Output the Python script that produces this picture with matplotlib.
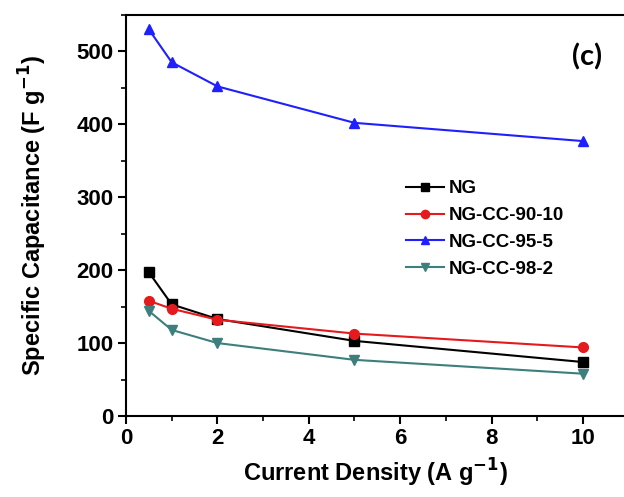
import matplotlib.pyplot as plt
from matplotlib.ticker import MultipleLocator

plt.rcParams['font.family'] = ['Liberation Sans', 'DejaVu Sans']

# current density (A/g)
current = [0.5, 1, 2, 5, 10]

# specific capacitance (F/g)
ng = [197, 153, 133, 103, 74]
ng_cc_90_10 = [158, 147, 132, 113, 94]
ng_cc_95_5 = [530, 485, 452, 402, 377]
ng_cc_98_2 = [144, 118, 100, 77, 58]

fig = plt.figure(figsize=(6.24, 4.97), dpi=100)
ax = fig.add_axes([0.202, 0.163, 0.798, 0.807])

ax.plot(current, ng, '-s', color='black', lw=1.5, ms=6.5, label='NG')
ax.plot(current, ng_cc_90_10, '-o', color='#e41a1c', lw=1.5, ms=7, label='NG-CC-90-10')
ax.plot(current, ng_cc_95_5, '-^', color='#1f1fff', lw=1.5, ms=7, label='NG-CC-95-5')
ax.plot(current, ng_cc_98_2, '-v', color='#3c7f7c', lw=1.5, ms=7, label='NG-CC-98-2')

ax.set_xlim(0, 10.9)
ax.set_ylim(0, 550)
ax.xaxis.set_major_locator(MultipleLocator(2))
ax.xaxis.set_minor_locator(MultipleLocator(1))
ax.yaxis.set_major_locator(MultipleLocator(100))
ax.yaxis.set_minor_locator(MultipleLocator(50))
ax.tick_params(which='major', direction='out', length=6, width=1.5, labelsize=16, pad=3)
ax.tick_params(which='minor', direction='out', length=3.5, width=1.2)
for lab in ax.get_xticklabels() + ax.get_yticklabels():
    lab.set_fontweight('bold')
ax.spines['right'].set_visible(False)
for s in ['left', 'bottom', 'top']:
    ax.spines[s].set_linewidth(1.5)

ax.set_xlabel(r'Current Density (A g$^{\mathbf{-1}}$)', fontsize=17, fontweight='bold', labelpad=5)
ax.set_ylabel(r'Specific Capacitance (F g$^{\mathbf{-1}}$)', fontsize=17, fontweight='bold', labelpad=20)

ax.text(10.1, 492, '(c)', fontsize=21, fontweight='bold', family=['Lato', 'DejaVu Sans'],
        ha='center', va='center')

ax.legend(loc='upper left', bbox_to_anchor=(0.563, 0.588), frameon=False,
          prop={'weight': 'bold', 'size': 13.5}, handlelength=2.0, markerscale=0.85,
          handletextpad=0.27, labelspacing=0.52, borderaxespad=0, borderpad=0)

fig.savefig('out.png', dpi=100)
